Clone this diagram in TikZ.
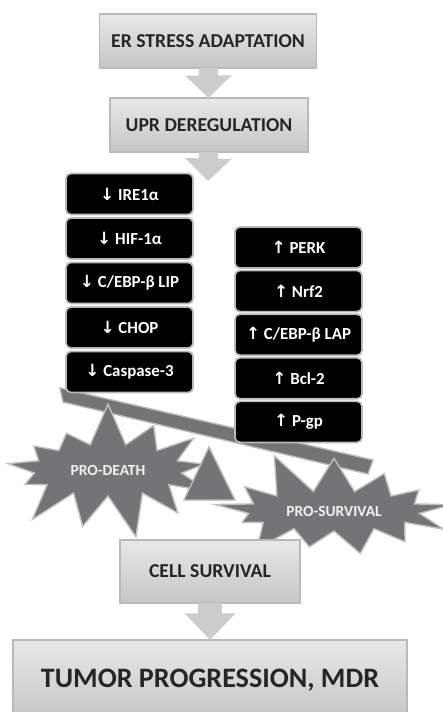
\documentclass[tikz,border=0pt]{standalone}
\usepackage{fontspec}
\setmainfont{Carlito}
\newfontfamily\arrowfont{DejaVu Sans}
\usepackage{xcolor}
\usepackage{tikz}
\usetikzlibrary{shapes,arrows.meta,positioning}

\definecolor{steelgray}{RGB}{116,116,119}

\begin{document}
\begin{tikzpicture}[
        x=0.025cm, y=-0.025cm,
        % Define styles for different components
        stage/.style={
            draw=gray!55,
            line width=1.2pt,
            top color=gray!18,
            bottom color=gray!45,
            minimum height=1.35cm,
            outer sep=0pt,
            text=black!85,
            font=\bfseries\fontsize{14}{16}\selectfont
        },
        marker/.style={
            draw=gray!55,
            fill=black,
            rounded corners=3.5pt,
            line width=1.2pt,
            minimum width=3.175cm,
            minimum height=1.025cm,
            text=white,
            font=\bfseries\fontsize{12}{14}\selectfont
        },
        burst/.style={
            starburst,
            fill=steelgray,
            draw=gray!50,
            line width=1pt,
            starburst points=13,
            starburst point height=1.1cm,
            text=gray!12,
            font=\bfseries\fontsize{11}{13}\selectfont
        },
        seesaw/.style={
            fill=steelgray,
            draw=gray!55,
            line width=1pt
        },
        blockarrow/.style={
            draw=gray!40,
            line width=13.5pt,
            -{Triangle[width=32pt,length=16pt]}
        }
    ]

    \useasboundingbox (0,0) rectangle (442,712);

    % Place the beam and the fulcrum
    \filldraw[seesaw] (60,388) -- (373,460) -- (368,474) -- (63,402) -- cycle;

    % Place the two bursts
    \node[burst, minimum width=5.9cm, minimum height=3.5cm, random starburst=7] (death) at (108,470) {PRO-DEATH};
    \node[burst, minimum width=6.5cm, minimum height=3.2cm, random starburst=11] (survival) at (334,511) {PRO-SURVIVAL};

    \filldraw[seesaw] (209,447) -- (235,500) -- (184,500) -- cycle;

    % Place the stages
    \node[stage, minimum width=5.425cm] (er) at (208,41) {ER STRESS ADAPTATION};
    \node[stage, minimum width=4.95cm] (upr) at (209,125) {UPR DEREGULATION};
    \node[stage, minimum width=4.5cm, minimum height=1.575cm] (cell) at (210,571.5) {CELL SURVIVAL};
    \node[stage, minimum width=9.85cm, minimum height=2cm, font=\bfseries\fontsize{20}{23}\selectfont] (tumor) at (210,680) {TUMOR PROGRESSION, MDR};
    \coordinate (split) at (208,181);

    % Place the markers
    \foreach \gene [count=\i] in {IRE1α, HIF-1α, C/EBP-β LIP, CHOP, Caspase-3} {
        \node[marker] (lo\i) at (129.5,{194+44.5*(\i-1)}) {{\arrowfont ↓} \gene};
    }
    \foreach \gene [count=\i] in {PERK, Nrf2, C/EBP-β LAP, Bcl-2, P-gp} {
        \node[marker] (hi\i) at (298.5,{247.5+43.6*(\i-1)}) {{\arrowfont ↑} \gene};
    }

    % Draw block arrows
    \draw[blockarrow] (er) -- (upr);
    \draw[blockarrow] (upr) -- (split);
    \draw[blockarrow, line width=17pt, -{Triangle[width=35pt,length=19pt]}] (cell) -- (tumor);

\end{tikzpicture}
\end{document}
